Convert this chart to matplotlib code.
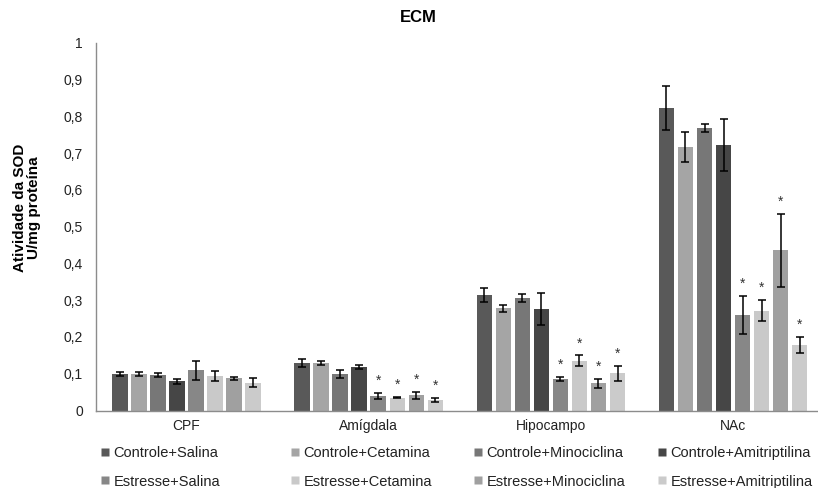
import matplotlib
matplotlib.use("Agg")
import matplotlib.pyplot as plt
from matplotlib.lines import Line2D
import numpy as np

plt.rcParams['font.family'] = ['Liberation Sans', 'DejaVu Sans']

categories = ["CPF", "Amígdala", "Hipocampo", "NAc"]
series = ["Controle+Salina", "Controle+Cetamina", "Controle+Minociclina", "Controle+Amitriptilina",
          "Estresse+Salina", "Estresse+Cetamina", "Estresse+Minociclina", "Estresse+Amitriptilina"]
colors = ["#595959", "#a5a5a5", "#777777", "#464646", "#878787", "#c9c9c9", "#a0a0a0", "#cbcbcb"]

# values per series, across categories [CPF, Amígdala, Hipocampo, NAc]
controle_salina = [0.100, 0.129, 0.314, 0.823]
controle_cetamina = [0.100, 0.129, 0.278, 0.718]
controle_minociclina = [0.097, 0.099, 0.305, 0.769]
controle_amitriptilina = [0.079, 0.119, 0.277, 0.722]
estresse_salina = [0.109, 0.039, 0.086, 0.260]
estresse_cetamina = [0.094, 0.035, 0.135, 0.272]
estresse_minociclina = [0.088, 0.041, 0.074, 0.436]
estresse_amitriptilina = [0.076, 0.029, 0.101, 0.178]

err_controle_salina = [0.006, 0.010, 0.018, 0.060]
err_controle_cetamina = [0.006, 0.006, 0.010, 0.041]
err_controle_minociclina = [0.005, 0.011, 0.011, 0.011]
err_controle_amitriptilina = [0.007, 0.006, 0.044, 0.070]
err_estresse_salina = [0.027, 0.009, 0.005, 0.052]
err_estresse_cetamina = [0.014, 0.002, 0.015, 0.029]
err_estresse_minociclina = [0.004, 0.010, 0.013, 0.099]
err_estresse_amitriptilina = [0.013, 0.006, 0.020, 0.022]

# significance markers (category index, series index)
significant = [(1, 4), (1, 5), (1, 6), (1, 7), (2, 4), (2, 5), (2, 6), (2, 7),
               (3, 4), (3, 5), (3, 6), (3, 7)]

values = [controle_salina, controle_cetamina, controle_minociclina, controle_amitriptilina,
          estresse_salina, estresse_cetamina, estresse_minociclina, estresse_amitriptilina]
errors = [err_controle_salina, err_controle_cetamina, err_controle_minociclina, err_controle_amitriptilina,
          err_estresse_salina, err_estresse_cetamina, err_estresse_minociclina, err_estresse_amitriptilina]

fig = plt.figure(figsize=(8.18, 4.88), dpi=100)
W, H = 818, 488
ax = fig.add_axes([96 / W, 1 - 410.5 / H, (818 - 96) / W, (410.5 - 43) / H])

x = np.arange(len(categories))
step = 0.1045
bw = 0.085
for i, (name, vals, errs, c) in enumerate(zip(series, values, errors, colors)):
    pos = x + (i - 3.5) * step
    ax.bar(pos, vals, width=bw, color=c, edgecolor='none', label=name, zorder=2)
    ax.errorbar(pos, vals, yerr=errs, fmt='none', ecolor='black', elinewidth=1.1,
                capsize=2.6, capthick=1.1, zorder=3)

for ci, si in significant:
    px = x[ci] + (si - 3.5) * step
    top = values[si][ci] + errors[si][ci]
    ax.text(px, top + 0.013, "*", ha='center', va='bottom', fontsize=10, color='#333333')

ax.set_ylim(0, 1)
ax.set_xlim(-0.4967, -0.4967 + 722 / 182.2)
ticks = np.arange(0, 1.01, 0.1)
ax.set_yticks(ticks)
ax.set_yticklabels(["0" if v == 0 else ("1" if v > 0.99 else f"{v:.1f}".replace(".", ",")) for v in ticks],
                   fontsize=10, color='#222222')
ax.set_xticks(x)
ax.set_xticklabels(categories, fontsize=10, color='#222222')
ax.tick_params(axis='both', length=0)
ax.tick_params(axis='y', pad=9.4)
ax.tick_params(axis='x', pad=6)
for s in ['top', 'right']:
    ax.spines[s].set_visible(False)
for s in ['left', 'bottom']:
    ax.spines[s].set_color('#8c8c8c')
    ax.spines[s].set_linewidth(1.0)

fig.text(27 / W, 1 - 208 / H, "Atividade da SOD\nU/mg proteína", rotation=90,
         ha='center', va='center', fontsize=11, fontweight='bold', linespacing=1.0,
         multialignment='center')

fig.text(418 / W, 1 - 18 / H, "ECM", ha='center', va='center', fontsize=12, fontweight='bold')

# legend: 4 columns, 2 rows
col_x = [101, 291, 474, 658]
for col in range(4):
    handles = []
    for si in (col, col + 4):
        handles.append(Line2D([], [], marker='s', linestyle='none', markersize=6,
                              markerfacecolor=colors[si], markeredgecolor='none', label=series[si]))
    leg = fig.legend(handles=handles, loc='upper left',
                     bbox_to_anchor=(col_x[col] / W, 1 - 446 / H), frameon=False,
                     fontsize=10.5, handlelength=0.6, handletextpad=0.25, labelspacing=1.0,
                     borderpad=0, borderaxespad=0)
    for t in leg.get_texts():
        t.set_color('#222222')

fig.savefig("out.png", dpi=100)
